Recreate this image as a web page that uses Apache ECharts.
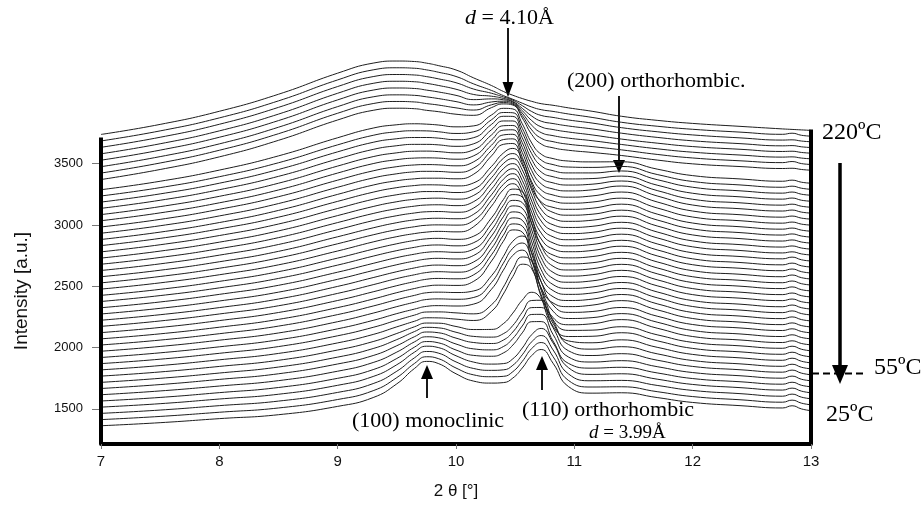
<!DOCTYPE html>
<html>
<head>
<meta charset="utf-8">
<script src="https://cdn.jsdelivr.net/npm/echarts@6/dist/echarts.min.js"></script>
<style>
  html, body { margin: 0; padding: 0; background: #fff; }
  #chart { width: 921px; height: 510px; }
</style>
</head>
<body>
<div id="chart"></div>
<script>
// 2θ sample positions [°]
var twoTheta = [7.0, 7.5, 8.0, 8.5, 9.0, 9.3, 9.5, 9.65, 9.75, 9.85, 10.0, 10.15, 10.3, 10.4, 10.48,
  10.56, 10.64, 10.72, 10.82, 10.95, 11.15, 11.4, 11.7, 12.0, 12.4, 12.76, 12.84, 12.92, 13.0]

// intensity of each scan at 2θ = 7°, from 220ºC (top) down to 25ºC (bottom)
var offsets = [3739, 3686, 3634, 3581, 3529, 3476, 3424, 3371,
  3288, 3237, 3187, 3136, 3085, 3035, 2984, 2933, 2882, 2832,
  2781, 2730, 2680, 2629, 2578, 2528, 2477, 2426, 2376, 2325,
  2274, 2223, 2173, 2122, 2071, 2021, 1970, 1919, 1869, 1818,
  1767, 1716, 1666, 1615, 1564, 1514, 1463, 1412, 1362]

// each scan, relative to its value at 7° (same order as offsets)
var scans = [
  [0, 82, 189, 328, 500, 582, 599, 595, 582, 562, 526, 461, 399, 351, 320, 293, 270, 251, 238, 217, 189, 148, 115, 90, 66, 45, 41, 37, 33],
  [0, 82, 188, 327, 498, 580, 597, 593, 580, 561, 526, 465, 412, 370, 340, 308, 277, 255, 241, 220, 192, 152, 120, 95, 72, 54, 63, 46, 39],
  [0, 82, 188, 326, 496, 577, 594, 590, 577, 559, 527, 475, 441, 411, 385, 340, 292, 260, 244, 223, 198, 160, 127, 101, 77, 59, 61, 51, 45],
  [0, 82, 187, 324, 494, 575, 592, 588, 575, 558, 527, 484, 470, 452, 428, 371, 308, 266, 247, 227, 203, 168, 134, 106, 83, 65, 67, 57, 51],
  [0, 82, 187, 323, 492, 572, 589, 585, 572, 557, 529, 494, 500, 493, 474, 404, 323, 272, 250, 230, 206, 172, 139, 111, 89, 71, 73, 63, 57],
  [0, 82, 186, 322, 490, 570, 586, 582, 570, 556, 531, 504, 528, 534, 518, 437, 338, 278, 253, 233, 212, 181, 146, 118, 95, 78, 80, 70, 64],
  [0, 82, 186, 321, 488, 567, 584, 580, 567, 555, 532, 514, 557, 575, 562, 469, 352, 284, 256, 235, 216, 189, 152, 123, 100, 85, 94, 77, 70],
  [0, 82, 185, 320, 486, 565, 582, 578, 565, 554, 533, 524, 587, 617, 608, 502, 368, 290, 259, 239, 221, 196, 159, 128, 106, 90, 92, 82, 76],
  [0, 69, 160, 276, 424, 503, 530, 538, 535, 528, 513, 521, 610, 664, 659, 538, 381, 290, 254, 234, 227, 228, 168, 115, 88, 69, 78, 61, 53],
  [0, 68, 157, 271, 417, 495, 524, 532, 531, 524, 510, 524, 622, 681, 679, 552, 387, 293, 256, 236, 233, 241, 175, 118, 90, 71, 80, 63, 54],
  [0, 67, 154, 266, 410, 488, 517, 527, 527, 522, 509, 526, 634, 700, 699, 566, 395, 296, 256, 238, 238, 254, 183, 121, 92, 73, 82, 64, 56],
  [0, 66, 152, 261, 403, 481, 511, 522, 522, 518, 506, 527, 642, 713, 713, 576, 399, 297, 258, 240, 243, 263, 189, 123, 94, 75, 84, 66, 58],
  [0, 65, 149, 256, 396, 473, 504, 517, 518, 514, 504, 529, 650, 725, 727, 587, 404, 299, 259, 241, 248, 274, 196, 125, 96, 77, 85, 68, 60],
  [0, 64, 146, 251, 389, 466, 498, 511, 513, 511, 502, 530, 658, 739, 742, 598, 409, 301, 259, 243, 252, 283, 202, 128, 98, 79, 87, 70, 62],
  [0, 62, 144, 247, 382, 458, 492, 506, 509, 507, 499, 532, 667, 751, 756, 608, 414, 303, 261, 243, 253, 285, 204, 130, 100, 80, 89, 72, 64],
  [0, 61, 141, 242, 375, 451, 485, 501, 505, 504, 497, 532, 675, 764, 770, 619, 419, 306, 262, 245, 254, 286, 206, 132, 102, 82, 91, 74, 66],
  [0, 60, 138, 237, 368, 444, 479, 495, 500, 500, 495, 533, 682, 776, 783, 628, 423, 307, 262, 246, 255, 288, 207, 134, 104, 84, 93, 76, 67],
  [0, 59, 136, 232, 361, 436, 473, 490, 496, 495, 487, 512, 646, 755, 793, 702, 501, 345, 271, 248, 256, 289, 209, 136, 106, 86, 95, 78, 69],
  [0, 58, 133, 227, 354, 429, 466, 485, 492, 492, 484, 512, 651, 763, 802, 710, 505, 347, 272, 249, 258, 291, 211, 138, 108, 88, 97, 80, 71],
  [0, 57, 130, 222, 347, 421, 460, 480, 487, 489, 481, 512, 656, 771, 812, 720, 511, 349, 272, 250, 259, 292, 213, 140, 110, 90, 99, 82, 73],
  [0, 55, 127, 217, 340, 414, 453, 474, 483, 485, 478, 511, 660, 779, 821, 727, 515, 352, 274, 250, 260, 294, 215, 142, 112, 92, 101, 84, 75],
  [0, 54, 125, 212, 333, 407, 447, 469, 479, 481, 475, 510, 664, 785, 830, 735, 520, 353, 275, 251, 262, 296, 217, 144, 114, 95, 109, 87, 77],
  [0, 53, 122, 207, 326, 399, 441, 464, 474, 477, 473, 510, 669, 795, 841, 744, 525, 356, 276, 252, 263, 297, 219, 146, 116, 97, 111, 89, 79],
  [0, 52, 119, 203, 319, 392, 434, 458, 470, 473, 471, 510, 673, 803, 850, 753, 530, 358, 277, 254, 264, 299, 220, 148, 119, 99, 113, 91, 80],
  [0, 51, 117, 198, 311, 385, 428, 453, 465, 471, 467, 510, 677, 811, 860, 762, 536, 361, 278, 255, 265, 300, 222, 150, 121, 101, 115, 93, 82],
  [0, 49, 114, 193, 304, 377, 421, 448, 461, 465, 457, 483, 632, 781, 867, 847, 626, 405, 287, 257, 266, 302, 224, 152, 123, 103, 117, 95, 84],
  [0, 48, 111, 188, 297, 370, 415, 442, 457, 461, 454, 480, 633, 784, 872, 852, 631, 407, 288, 257, 267, 303, 226, 154, 125, 105, 119, 96, 86],
  [0, 47, 109, 183, 290, 362, 409, 437, 452, 457, 452, 479, 634, 788, 876, 858, 634, 409, 289, 258, 269, 305, 228, 156, 127, 107, 120, 98, 88],
  [0, 46, 106, 178, 283, 355, 402, 432, 448, 454, 449, 478, 636, 793, 882, 863, 637, 411, 290, 259, 270, 306, 230, 158, 129, 109, 122, 100, 90],
  [0, 45, 103, 173, 276, 348, 396, 427, 444, 450, 445, 476, 635, 793, 884, 865, 639, 412, 291, 260, 271, 308, 231, 160, 131, 110, 124, 102, 91],
  [0, 44, 101, 168, 269, 340, 390, 421, 439, 446, 442, 474, 635, 794, 885, 866, 640, 412, 292, 261, 272, 309, 233, 162, 133, 112, 126, 104, 93],
  [0, 42, 98, 164, 262, 333, 383, 416, 435, 442, 439, 472, 635, 794, 887, 869, 642, 414, 293, 262, 273, 311, 235, 164, 135, 114, 128, 106, 95],
  [0, 41, 95, 159, 255, 325, 377, 411, 430, 438, 436, 470, 635, 796, 889, 871, 643, 415, 293, 263, 275, 312, 237, 166, 137, 116, 130, 108, 97],
  [0, 40, 92, 154, 248, 318, 370, 405, 426, 431, 428, 441, 565, 722, 846, 889, 755, 515, 327, 266, 273, 306, 235, 167, 139, 118, 132, 110, 99],
  [0, 39, 90, 149, 241, 311, 364, 400, 422, 427, 424, 439, 561, 718, 840, 883, 750, 513, 327, 267, 274, 307, 237, 169, 141, 120, 134, 112, 101],
  [0, 38, 87, 144, 234, 303, 358, 395, 417, 423, 420, 436, 557, 712, 833, 876, 743, 510, 326, 267, 275, 309, 239, 171, 143, 122, 136, 114, 103],
  [0, 36, 84, 139, 227, 296, 354, 396, 421, 422, 414, 406, 480, 624, 768, 870, 834, 599, 357, 271, 273, 301, 235, 173, 145, 125, 142, 117, 104],
  [0, 35, 82, 134, 220, 289, 351, 397, 425, 424, 414, 403, 477, 619, 761, 862, 825, 595, 356, 272, 274, 303, 237, 175, 147, 127, 144, 119, 106],
  [0, 34, 79, 129, 213, 282, 348, 403, 433, 432, 405, 380, 381, 428, 514, 620, 684, 628, 431, 287, 272, 296, 235, 177, 149, 129, 146, 121, 108],
  [0, 33, 76, 125, 206, 276, 349, 415, 449, 445, 409, 375, 369, 397, 464, 572, 668, 670, 500, 309, 271, 291, 233, 178, 151, 131, 148, 123, 110],
  [0, 32, 74, 120, 200, 269, 349, 423, 461, 455, 411, 375, 367, 395, 461, 566, 660, 661, 496, 308, 269, 284, 231, 180, 153, 133, 150, 125, 112],
  [0, 31, 71, 115, 192, 263, 348, 432, 473, 465, 414, 374, 366, 393, 459, 561, 655, 656, 492, 308, 267, 278, 229, 181, 155, 135, 152, 126, 114],
  [0, 29, 68, 110, 185, 256, 347, 440, 485, 475, 416, 372, 365, 392, 456, 556, 647, 648, 489, 307, 268, 275, 229, 183, 157, 137, 153, 128, 116],
  [0, 28, 66, 105, 178, 250, 346, 449, 497, 486, 419, 367, 351, 355, 394, 482, 591, 642, 524, 322, 267, 272, 228, 185, 159, 139, 155, 130, 117],
  [0, 27, 63, 100, 171, 243, 344, 454, 505, 492, 420, 366, 351, 355, 392, 478, 584, 635, 518, 322, 266, 269, 228, 187, 161, 140, 157, 132, 119],
  [0, 26, 60, 95, 164, 236, 343, 459, 513, 498, 421, 365, 350, 353, 391, 475, 580, 629, 514, 320, 266, 268, 228, 188, 162, 142, 159, 134, 121],
  [0, 25, 58, 90, 158, 230, 342, 468, 525, 508, 424, 364, 348, 352, 389, 471, 573, 622, 510, 320, 266, 269, 230, 190, 164, 145, 163, 137, 123]
]

var yTicks = [1500, 2000, 2500, 3000, 3500]
var yMin = 1213
var yMax = 4477
// the drawn frame stops below the top of the stack
var leftFrameTop = 3714
var rightFrameTop = 3779

var serif = '"Liberation Serif", "Times New Roman", serif'
var sans = '"Liberation Sans", Arial, sans-serif'

var chart = echarts.init(document.getElementById('chart'))

var series = scans.map(function (row, i) {
  return {
    type: 'line',
    data: row.map(function (v, j) {
      return [twoTheta[j], offsets[i] + v]
    }),
    smooth: 0.5,
    symbol: 'none',
    silent: true,
    lineStyle: { color: '#1e1e1e', width: 1 },
    z: 2
  }
})

// left and right frame lines
series.push({
  type: 'line',
  data: [[7, yMin], [7, leftFrameTop]],
  symbol: 'none',
  silent: true,
  clip: false,
  lineStyle: { color: '#000', width: 4 },
  z: 5
})
series.push({
  type: 'line',
  data: [[13, yMin], [13, rightFrameTop]],
  symbol: 'none',
  silent: true,
  clip: false,
  lineStyle: { color: '#000', width: 4 },
  z: 5
})

function arrow(x, yStart, yBase, yTip, half, width) {
  return [
    {
      type: 'line',
      shape: { x1: x, y1: yStart, x2: x, y2: yBase },
      style: { stroke: '#000', lineWidth: width }
    },
    {
      type: 'polygon',
      shape: { points: [[x - half, yBase], [x + half, yBase], [x, yTip]] },
      style: { fill: '#000' }
    }
  ]
}

function note(text, x, y, size) {
  return {
    type: 'text',
    style: {
      text: text,
      x: x,
      y: y,
      font: size + 'px ' + serif,
      fill: '#000',
      textVerticalAlign: 'middle',
      rich: { i: { fontStyle: 'italic', fontSize: size, fontFamily: serif } }
    }
  }
}

var graphics = [
  note('{i|d} = 4.10Å', 465, 18, 22),
  note('(200) orthorhombic.', 567, 81, 22),
  note('(100) monoclinic', 352, 421, 22),
  note('(110) orthorhombic', 522, 410, 22),
  note('{i|d} = 3.99Å', 589, 433, 19),
  note('220ºC', 822, 133, 24),
  note('55ºC', 874, 368, 24),
  note('25ºC', 826, 415, 24),
  {
    // y axis title, centred on the drawn part of the left frame
    type: 'text',
    x: 22,
    y: 291,
    rotation: Math.PI / 2,
    style: {
      text: 'Intensity [a.u.]',
      font: '19px ' + sans,
      fill: '#111',
      textAlign: 'center',
      textVerticalAlign: 'middle'
    }
  },
  {
    type: 'line',
    shape: { x1: 812, y1: 373.5, x2: 864, y2: 373.5 },
    style: { stroke: '#000', lineWidth: 2, lineDash: [7, 4] }
  }
]
  .concat(arrow(508, 28, 82, 97, 5.5, 1.8))
  .concat(arrow(619, 96, 160, 173, 6, 1.8))
  .concat(arrow(427, 398, 379, 365, 6, 1.8))
  .concat(arrow(542, 390, 370, 356, 6, 1.8))
  .concat(arrow(840, 163, 365, 384, 8, 3.5))

chart.setOption({
  animation: false,
  backgroundColor: '#fff',
  grid: { left: 101, right: 110, top: 44, height: 400 },
  xAxis: {
    type: 'value',
    min: 7,
    max: 13,
    interval: 1,
    name: '2 θ [°]',
    nameLocation: 'middle',
    nameGap: 39,
    nameTextStyle: { fontFamily: sans, fontSize: 17, color: '#111' },
    axisLine: { onZero: false, lineStyle: { color: '#000', width: 4 } },
    axisTick: { length: 5, lineStyle: { color: '#777' } },
    axisLabel: { fontFamily: sans, fontSize: 15, color: '#111', margin: 10 },
    splitLine: { show: false }
  },
  yAxis: {
    type: 'value',
    min: yMin,
    max: yMax,
    axisLine: { show: false },
    axisTick: { show: true, customValues: yTicks, length: 9, lineStyle: { color: '#777' } },
    axisLabel: {
      customValues: yTicks,
      fontFamily: sans,
      fontSize: 13,
      color: '#111',
      margin: 18,
      formatter: function (v) { return String(v) }
    },
    splitLine: { show: false }
  },
  graphic: graphics,
  series: series
})
</script>
</body>
</html>
